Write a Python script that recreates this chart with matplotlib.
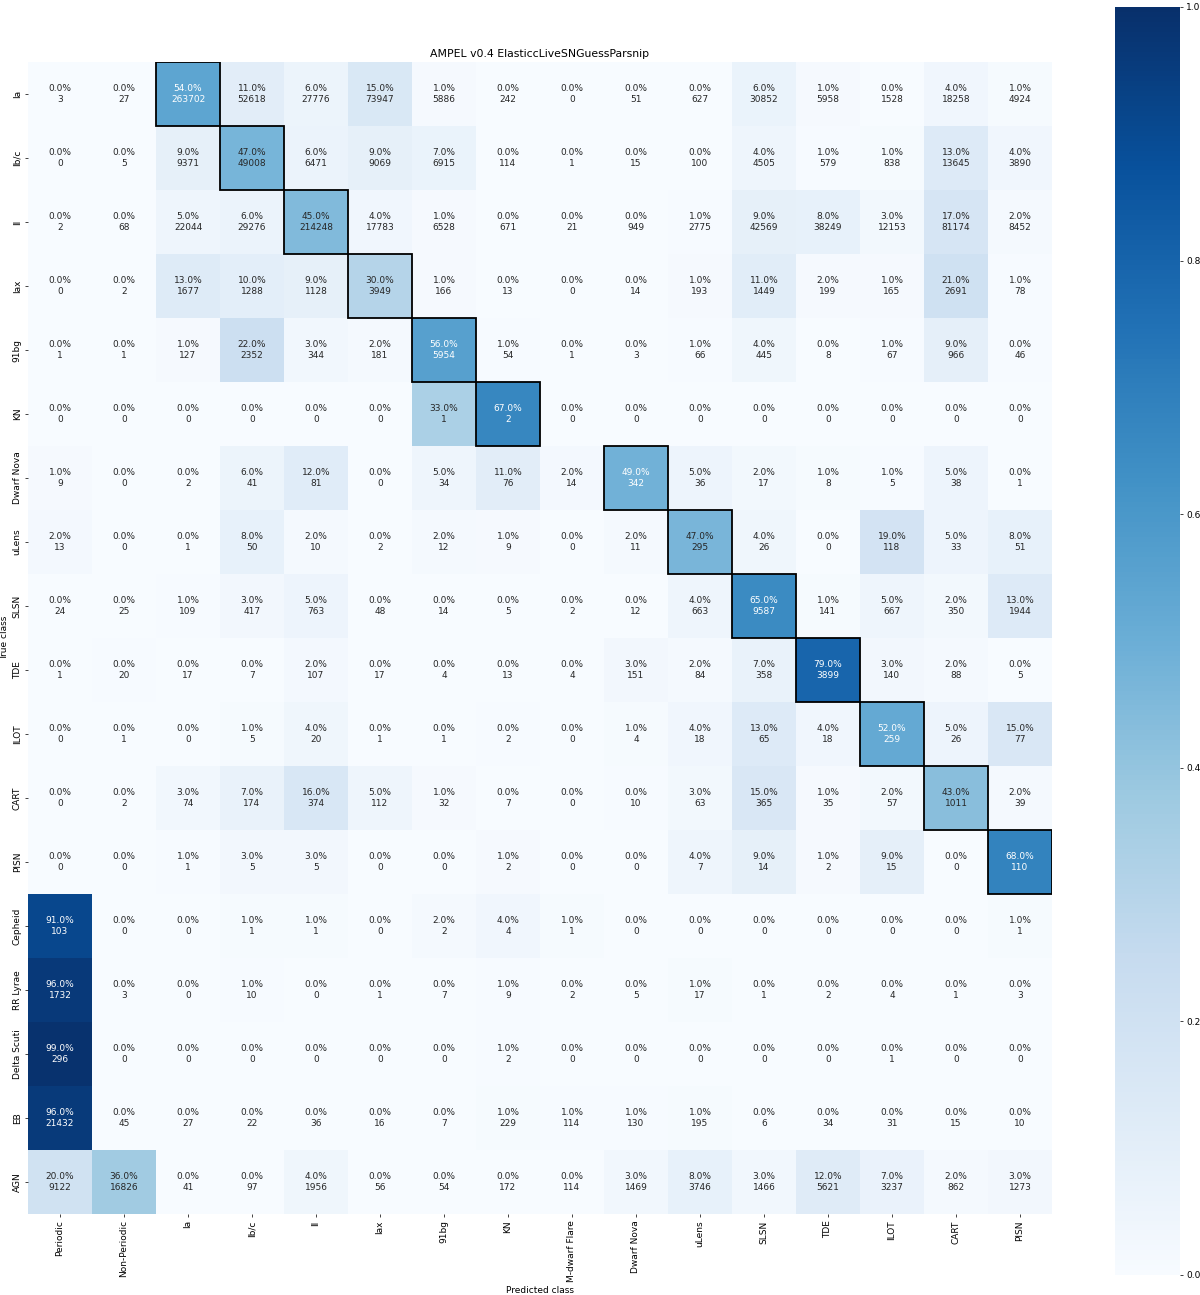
import numpy as np
import matplotlib
matplotlib.use("Agg")
import matplotlib.pyplot as plt
from matplotlib.patches import Rectangle
import seaborn as sns


# -----------------------------
# Data (counts read off the confusion matrix)
# -----------------------------
TITLE = "AMPEL v0.4 ElasticcLiveSNGuessParsnip"

pred_classes = ["Periodic", "Non-Periodic", "Ia", "Ib/c", "II", "Iax", "91bg", "KN",
                "M-dwarf Flare", "Dwarf Nova", "uLens", "SLSN", "TDE", "ILOT", "CART", "PISN"]

true_classes = ["Ia", "Ib/c", "II", "Iax", "91bg", "KN", "Dwarf Nova", "uLens", "SLSN",
                "TDE", "ILOT", "CART", "PISN", "Cepheid", "RR Lyrae", "Delta Scuti", "EB", "AGN"]

counts = [
    [3, 27, 263702, 52618, 27776, 73947, 5886, 242, 0, 51, 627, 30852, 5958, 1528, 18258, 4924],
    [0, 5, 9371, 49008, 6471, 9069, 6915, 114, 1, 15, 100, 4505, 579, 838, 13645, 3890],
    [2, 68, 22044, 29276, 214248, 17783, 6528, 671, 21, 949, 2775, 42569, 38249, 12153, 81174, 8452],
    [0, 2, 1677, 1288, 1128, 3949, 166, 13, 0, 14, 193, 1449, 199, 165, 2691, 78],
    [1, 1, 127, 2352, 344, 181, 5954, 54, 1, 3, 66, 445, 8, 67, 966, 46],
    [0, 0, 0, 0, 0, 0, 1, 2, 0, 0, 0, 0, 0, 0, 0, 0],
    [9, 0, 2, 41, 81, 0, 34, 76, 14, 342, 36, 17, 8, 5, 38, 1],
    [13, 0, 1, 50, 10, 2, 12, 9, 0, 11, 295, 26, 0, 118, 33, 51],
    [24, 25, 109, 417, 763, 48, 14, 5, 2, 12, 663, 9587, 141, 667, 350, 1944],
    [1, 20, 17, 7, 107, 17, 4, 13, 4, 151, 84, 358, 3899, 140, 88, 5],
    [0, 1, 0, 5, 20, 1, 1, 2, 0, 4, 18, 65, 18, 259, 26, 77],
    [0, 2, 74, 174, 374, 112, 32, 7, 0, 10, 63, 365, 35, 57, 1011, 39],
    [0, 0, 1, 5, 5, 0, 0, 2, 0, 0, 7, 14, 2, 15, 0, 110],
    [103, 0, 0, 1, 1, 0, 2, 4, 1, 0, 0, 0, 0, 0, 0, 1],
    [1732, 3, 0, 10, 0, 1, 7, 9, 2, 5, 17, 1, 2, 4, 1, 3],
    [296, 0, 0, 0, 0, 0, 0, 2, 0, 0, 0, 0, 0, 1, 0, 0],
    [21432, 45, 27, 22, 36, 16, 7, 229, 114, 130, 195, 6, 34, 31, 15, 10],
    [9122, 16826, 41, 97, 1956, 56, 54, 172, 114, 1469, 3746, 1466, 5621, 3237, 862, 1273],
]

DPI = 65  # the reference looks like a default-font figure saved at low dpi


def main() -> None:
    cm = np.array(counts, dtype=float)
    frac = cm / cm.sum(axis=1, keepdims=True)
    pct = np.round(100 * frac)

    labels = np.array([[f"{pct[i, j]:.1f}%\n{int(cm[i, j])}" for j in range(cm.shape[1])]
                       for i in range(cm.shape[0])])

    W, H = 1200, 1295
    fig = plt.figure(figsize=(W / DPI, H / DPI), dpi=DPI)
    ax = fig.add_axes([28 / W, 1 - 1214 / H, 1024 / W, 1152 / H])
    cax = fig.add_axes([1115 / W, 1 - 1275 / H, 65 / W, 1268 / H])

    sns.heatmap(frac, annot=labels, fmt="", cmap="Blues", vmin=0, vmax=1,
                xticklabels=pred_classes, yticklabels=true_classes,
                ax=ax, cbar_ax=cax, square=True)

    # text colour: white on the dark cells only
    for t, f in zip(ax.texts, frac.ravel()):
        t.set_color("w" if f > 0.475 else ".15")

    # Box the diagonal (true class == predicted class)
    for i, name in enumerate(true_classes):
        if name in pred_classes:
            j = pred_classes.index(name)
            ax.add_patch(Rectangle((j, i), 1, 1, fill=False, edgecolor="black", lw=2))

    ax.set_xticklabels(pred_classes, rotation=90)
    ax.set_yticklabels(true_classes, rotation=90, va="center")
    ax.set_xlabel("Predicted class")
    ax.set_ylabel("True class")
    ax.set_title(TITLE)

    cax.set_yticks([0.0, 0.2, 0.4, 0.6, 0.8, 1.0])

    fig.savefig("out.png", dpi=DPI)
    plt.close(fig)


if __name__ == "__main__":
    main()
